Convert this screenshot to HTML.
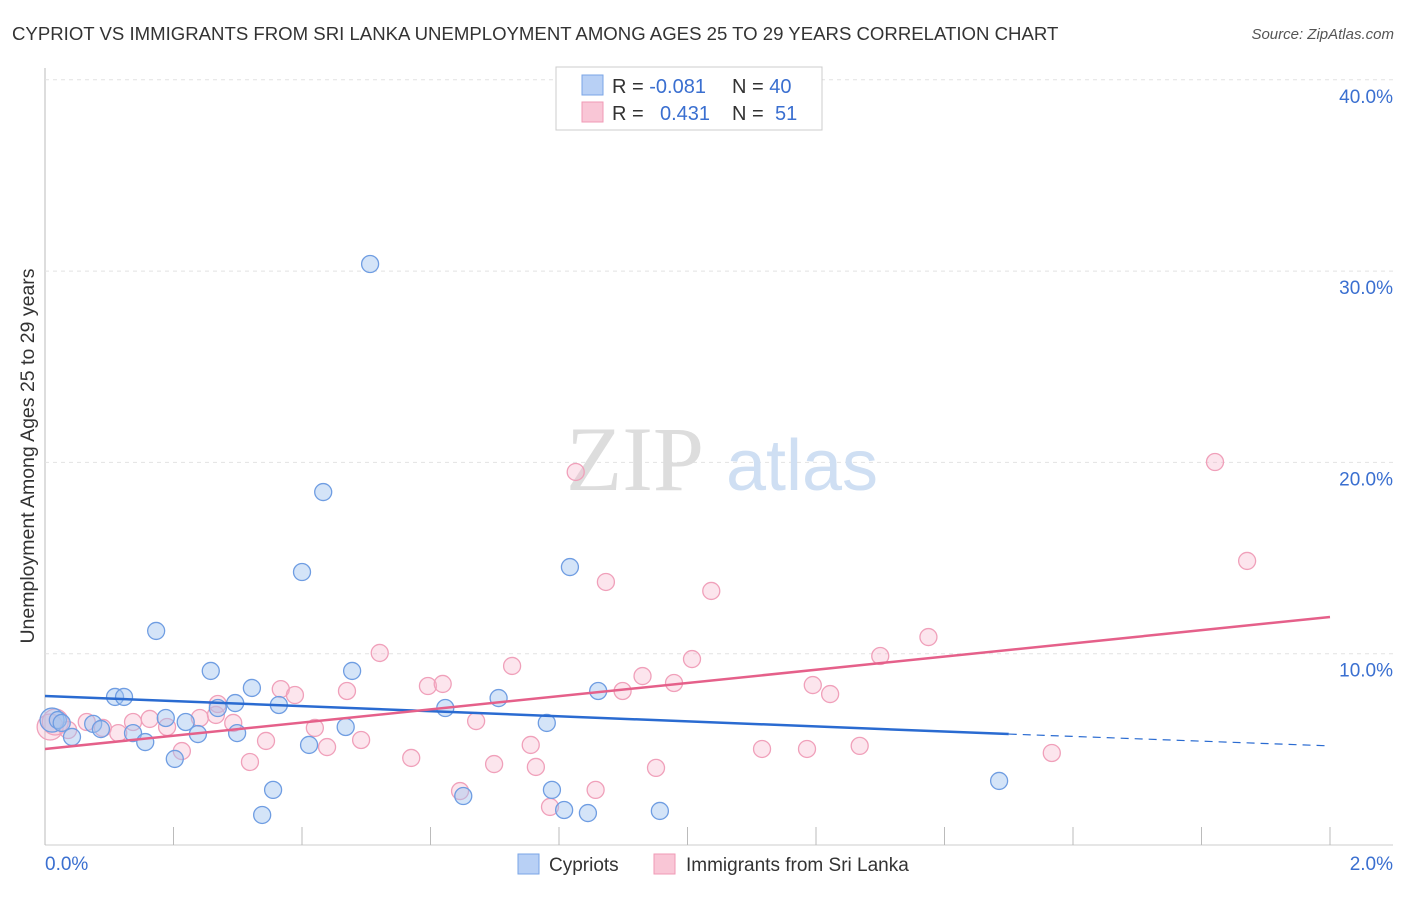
<!DOCTYPE html>
<html><head><meta charset="utf-8"><style>
body{margin:0;background:#fff;font-family:"Liberation Sans",sans-serif;}
svg text{font-family:"Liberation Sans",sans-serif;}
</style></head><body>
<svg id="chart" width="1406" height="892" xmlns="http://www.w3.org/2000/svg">
<text x="12" y="40" font-size="18.6" fill="#333">CYPRIOT VS IMMIGRANTS FROM SRI LANKA UNEMPLOYMENT AMONG AGES 25 TO 29 YEARS CORRELATION CHART</text>
<text x="1394" y="39" font-size="15" fill="#555" font-style="italic" text-anchor="end">Source: ZipAtlas.com</text>
<text x="34" y="456" font-size="19.5" fill="#333" text-anchor="middle" transform="rotate(-90 34 456)">Unemployment Among Ages 25 to 29 years</text>
<g id="grid"></g>
<g id="watermark">
<text x="635" y="490" font-size="92" fill="#ddd" font-family="Liberation Serif" style="font-family:'Liberation Serif',serif" text-anchor="middle">ZIP</text>
<text x="802" y="490" font-size="72" fill="#cfdff3" text-anchor="middle">atlas</text>
</g>
<g id="pts"></g>
<g id="lines"></g>
<g>
<rect x="556" y="67" width="266" height="63" fill="#fff" stroke="#ccc"/>
<rect x="582" y="75" width="21" height="20" fill="#b8d0f5" stroke="#7aa5e6"/>
<rect x="582" y="102" width="21" height="20" fill="#f9c6d6" stroke="#f09ab6"/>
<text x="612" y="93" font-size="20" fill="#333">R = <tspan fill="#3a6fd0">-0.081</tspan></text>
<text x="732" y="93" font-size="20" fill="#333">N = <tspan fill="#3a6fd0">40</tspan></text>
<text x="612" y="120" font-size="20" fill="#333">R = <tspan fill="#3a6fd0" x="660">0.431</tspan></text>
<text x="732" y="120" font-size="20" fill="#333">N = <tspan fill="#3a6fd0" x="775">51</tspan></text>
</g>
<g>
<rect x="518" y="854" width="21" height="20" fill="#b8d0f5" stroke="#7aa5e6"/>
<text x="549" y="871" font-size="19" fill="#333">Cypriots</text>
<rect x="654" y="854" width="21" height="20" fill="#f9c6d6" stroke="#f09ab6"/>
<text x="686" y="871" font-size="19" fill="#333">Immigrants from Sri Lanka</text>
</g>
</svg>
<script>
const xTicks=[0,0.2,0.4,0.6,0.8,1.0,1.2,1.4,1.6,1.8,2.0];
const yTicks=[10,20,30,40];
const yTickLabels=["10.0%","20.0%","30.0%","40.0%"];
const cypX=[0.011,0.020,0.026,0.042,0.075,0.087,0.109,0.123,0.137,0.156,0.173,0.188,0.202,0.219,0.238,0.258,0.269,0.296,0.299,0.322,0.338,0.355,0.364,0.400,0.411,0.433,0.468,0.478,0.506,0.623,0.651,0.706,0.781,0.789,0.808,0.817,0.845,0.861,0.957,1.485];
const cypY=[6.53,6.53,6.38,5.65,6.33,6.06,7.74,7.74,5.85,5.38,11.19,6.64,4.50,6.43,5.80,9.10,7.16,7.42,5.85,8.21,1.57,2.88,7.32,14.27,5.23,18.45,6.17,9.10,30.37,7.16,2.56,7.68,6.38,2.88,1.83,14.53,1.67,8.05,1.78,3.35];
const sriX=[0.008,0.016,0.036,0.065,0.090,0.114,0.137,0.163,0.190,0.213,0.241,0.266,0.269,0.293,0.319,0.344,0.367,0.389,0.420,0.439,0.470,0.492,0.521,0.570,0.596,0.619,0.646,0.671,0.699,0.727,0.756,0.764,0.786,0.826,0.857,0.873,0.899,0.930,0.951,0.979,1.007,1.037,1.116,1.186,1.195,1.222,1.268,1.300,1.375,1.567,1.821,1.871];
const sriY=[6.17,6.43,6.01,6.43,6.12,5.85,6.43,6.59,6.17,4.91,6.64,6.80,7.37,6.38,4.34,5.44,8.15,7.84,6.12,5.12,8.05,5.49,10.04,4.55,8.31,8.42,2.82,6.48,4.23,9.36,5.23,4.08,1.99,19.50,2.88,13.75,8.05,8.83,4.03,8.47,9.72,13.28,5.02,5.02,8.36,7.89,5.18,9.88,10.87,4.81,20.02,14.85];
const cypTrend=[7.79,5.80,5.18];
const cypTrendX=[0,1.5,2.0];
const sriTrend=[5.02,11.92];
const sriTrendX=[0,2.0];
const NS="http://www.w3.org/2000/svg";
const X=v=>45+v/2.0*1285, Y=v=>845-v*19.13;
function mk(t,a,p){const e=document.createElementNS(NS,t);for(const k in a)e.setAttribute(k,a[k]);p.appendChild(e);return e;}
const g=document.getElementById('grid');
mk('line',{x1:45,y1:68,x2:45,y2:845,stroke:'#bbb'},g);
mk('line',{x1:45,y1:845,x2:1393,y2:845,stroke:'#ccc'},g);
yTicks.forEach((t,i)=>{
 const l=mk('line',{x1:45,y1:Y(t),x2:1393,y2:Y(t),stroke:'#e2e2e2','stroke-dasharray':'4,4'},g);
 
 
 const tx=mk('text',{x:1393,y:Y(t)+23,'font-size':19,fill:'#3a6fd0','text-anchor':'end'},g);tx.textContent=yTickLabels[i];
 
 
});
xTicks.forEach(t=>{
 const l=mk('line',{x1:X(t),y1:827,x2:X(t),y2:845,stroke:'#bbb'},g);
 
 
});
const x0=mk('text',{x:45,y:870,'font-size':19,fill:'#3a6fd0'},g);x0.textContent='0.0%';


const x1=mk('text',{x:1393,y:870,'font-size':19,fill:'#3a6fd0','text-anchor':'end'},g);x1.textContent='2.0%';


const p=document.getElementById('pts');
sriX.forEach((v,i)=>{
 const c=mk('circle',{cx:X(v),cy:Y(sriY[i]),r:i<2?13:8.5,fill:'rgba(247,180,202,0.35)',stroke:'#f0a0ba','stroke-width':1.3},p);
 
 
});
cypX.forEach((v,i)=>{
 const c=mk('circle',{cx:X(v),cy:Y(cypY[i]),r:i<1?12:8.5,fill:'rgba(160,195,240,0.45)',stroke:'#6f9de2','stroke-width':1.3},p);
 
 
});
const L=document.getElementById('lines');
const b1=mk('line',{x1:X(cypTrendX[0]),y1:Y(cypTrend[0]),x2:X(cypTrendX[1]),y2:Y(cypTrend[1]),stroke:'#2a6bd1','stroke-width':2.5},L);


const b2=mk('line',{x1:X(cypTrendX[1]),y1:Y(cypTrend[1]),x2:X(cypTrendX[2]),y2:Y(cypTrend[2]),stroke:'#2a6bd1','stroke-width':1.2,'stroke-dasharray':'8,6'},L);


const s1=mk('line',{x1:X(sriTrendX[0]),y1:Y(sriTrend[0]),x2:X(sriTrendX[1]),y2:Y(sriTrend[1]),stroke:'#e5608a','stroke-width':2.5},L);


</script>
</body></html>
